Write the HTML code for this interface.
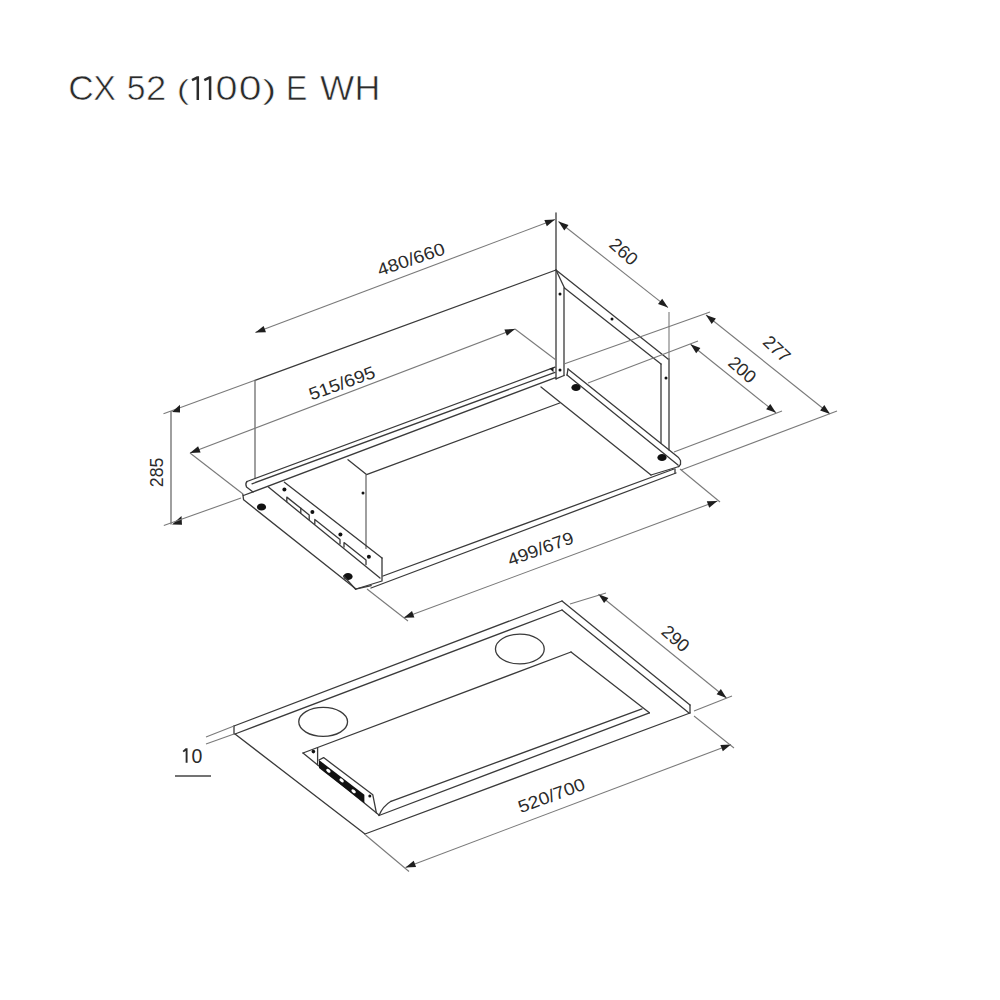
<!DOCTYPE html>
<html><head><meta charset="utf-8"><style>
html,body{margin:0;padding:0;background:#fff;}
body{width:1000px;height:1000px;overflow:hidden;position:relative;}
.title{position:absolute;left:70px;top:66px;font-family:"Liberation Sans",sans-serif;font-size:32px;color:#2b2b2b;white-space:nowrap;}
svg{position:absolute;left:0;top:0;}
.m{stroke:#3a3a3a;stroke-width:1.3;fill:none;stroke-linecap:round;stroke-linejoin:round;}
.g{stroke:#777;stroke-width:1.4;fill:none;}
.e{stroke:#7a7a7a;stroke-width:1.1;fill:none;}
.dl{stroke:#7a7a7a;stroke-width:1.1;fill:none;}
.ul{stroke:#444;stroke-width:1.3;}
.a{fill:#1e1e1e;}
.d{fill:#111;}
.k{fill:#111;}
.tt{font-family:"Liberation Sans",sans-serif;font-size:34.5px;fill:#2b2b2b;stroke:#fff;stroke-width:0.6px;}
.t{font-family:"Liberation Sans",sans-serif;fill:#2a2a2a;text-anchor:middle;}
</style></head><body>
<svg width="1000" height="1000" viewBox="0 0 1000 1000">
<line class="e" x1="163.5" y1="413.8" x2="255" y2="380.3"/>
<line class="m" x1="255" y1="380.3" x2="556" y2="270"/>
<line class="g" x1="255" y1="380" x2="255" y2="479"/>
<line class="m" x1="556" y1="213" x2="556" y2="379"/>
<line class="m" x1="564" y1="288" x2="564" y2="375.5"/>
<line class="m" x1="556" y1="378.8" x2="564" y2="375.5"/>
<line class="m" x1="568" y1="369" x2="567" y2="375"/>
<line class="m" x1="556" y1="270" x2="564.5" y2="288"/>
<line class="m" x1="556" y1="270" x2="668" y2="359"/>
<line class="m" x1="564.5" y1="288" x2="661" y2="364"/>
<line class="e" x1="669" y1="312" x2="669" y2="359"/>
<line class="m" x1="669" y1="359" x2="669" y2="450"/>
<line class="m" x1="661" y1="364" x2="661" y2="443"/>
<ellipse class="d" cx="560" cy="294" rx="1.5" ry="1.5" transform="rotate(0 560 294)"/>
<ellipse class="d" cx="612" cy="319" rx="1.5" ry="1.5" transform="rotate(0 612 319)"/>
<ellipse class="d" cx="560" cy="370" rx="1.5" ry="1.5" transform="rotate(0 560 370)"/>
<ellipse class="d" cx="666" cy="378" rx="1.5" ry="1.5" transform="rotate(0 666 378)"/>
<line class="m" x1="247" y1="481.5" x2="555" y2="367.2"/>
<line class="m" x1="252" y1="483.8" x2="555" y2="372.4"/>
<line class="m" x1="243.4" y1="495.5" x2="555.5" y2="377.6"/>
<polygon class="a" points="549.5,368.6 553.5,367.4 553.5,372.2"/>
<path class="m" d="M247,481.5 Q245,483.5 246.5,487 L253,492"/>
<line class="m" x1="348" y1="459.7" x2="366.5" y2="474.6"/>
<line class="m" x1="366.5" y1="474.6" x2="559.7" y2="403"/>
<line class="g" x1="366" y1="474.6" x2="366" y2="549"/>
<ellipse class="d" cx="363" cy="493" rx="1.5" ry="1.5" transform="rotate(0 363 493)"/>
<polyline class="m" points="568,369 678.5,457.5 680.5,460.5 680.5,464.5 678.5,466.5"/>
<line class="m" x1="567" y1="375" x2="678" y2="465"/>
<line class="m" x1="541" y1="387" x2="651" y2="475"/>
<line class="m" x1="651" y1="475" x2="679" y2="466.5"/>
<ellipse class="d" cx="576" cy="387.5" rx="4.6" ry="3.6" transform="rotate(0 576 387.5)"/>
<ellipse class="d" cx="662" cy="457.5" rx="4.6" ry="3.6" transform="rotate(0 662 457.5)"/>
<line class="m" x1="383" y1="576" x2="674" y2="469"/>
<line class="m" x1="371" y1="588" x2="676" y2="473"/>
<line class="m" x1="675" y1="469" x2="675" y2="473"/>
<polyline class="m" points="242.8,494.2 243.6,499.8 356,589 382,581 382,558"/>
<line class="m" x1="284.4" y1="482.2" x2="382" y2="558"/>
<line class="m" x1="268.4" y1="487" x2="380" y2="578"/>
<ellipse class="d" cx="261.5" cy="507" rx="4.6" ry="3.6" transform="rotate(0 261.5 507)"/>
<ellipse class="d" cx="348" cy="576.5" rx="4.6" ry="3.6" transform="rotate(0 348 576.5)"/>
<ellipse class="d" cx="284.4" cy="489.6" rx="2" ry="2" transform="rotate(0 284.4 489.6)"/>
<ellipse class="d" cx="312.4" cy="512" rx="2" ry="2" transform="rotate(0 312.4 512)"/>
<ellipse class="d" cx="340.4" cy="534.4" rx="2" ry="2" transform="rotate(0 340.4 534.4)"/>
<ellipse class="d" cx="368.9" cy="556.8" rx="2" ry="2" transform="rotate(0 368.9 556.8)"/>
<polyline class="m" points="286.8,501.62800000000004 286.8,497.12800000000004 309.2,514.936 309.2,519.436"/>
<polyline class="m" points="314.8,523.888 314.8,519.388 340,539.422 340,543.922"/>
<polyline class="m" points="344,547.102 344,542.602 366,560.092 366,564.592"/>
<line class="m" x1="300.8" y1="508.25800000000004" x2="300.8" y2="512.758"/>
<line class="m" x1="343.6" y1="576" x2="355.6" y2="589.2"/>
<line class="m" x1="355.6" y1="589.2" x2="371.2" y2="585.6"/>
<line class="dl" x1="255.4" y1="332.6" x2="555" y2="219.5"/>
<polygon class="a" points="255.4,332.6 263.6,325.9 266.0,332.2"/>
<polygon class="a" points="555.0,219.5 546.8,226.2 544.4,219.9"/>
<text class="t" x="413" y="265" font-size="17.5" textLength="70" lengthAdjust="spacingAndGlyphs" transform="rotate(-18.8 413 265)">480/660</text>
<line class="dl" x1="558.5" y1="221.5" x2="668" y2="307.6"/>
<polygon class="a" points="558.5,221.5 568.5,225.0 564.3,230.4"/>
<polygon class="a" points="668.0,307.6 658.0,304.1 662.2,298.7"/>
<text class="t" x="619.6" y="256.3" font-size="18" textLength="31" lengthAdjust="spacingAndGlyphs" transform="rotate(41 619.6 256.3)">260</text>
<line class="dl" x1="706" y1="315" x2="830" y2="414"/>
<polygon class="a" points="706.0,315.0 715.9,318.6 711.7,323.9"/>
<polygon class="a" points="830.0,414.0 820.1,410.4 824.3,405.1"/>
<line class="e" x1="564" y1="364" x2="710" y2="312"/>
<line class="e" x1="681" y1="470" x2="837" y2="411"/>
<text class="t" x="772.6" y="353.4" font-size="18" textLength="30" lengthAdjust="spacingAndGlyphs" transform="rotate(43 772.6 353.4)">277</text>
<line class="dl" x1="690.5" y1="344.3" x2="776" y2="412.8"/>
<polygon class="a" points="690.5,344.3 700.4,347.9 696.2,353.2"/>
<polygon class="a" points="776.0,412.8 766.1,409.2 770.3,403.9"/>
<line class="e" x1="588" y1="383" x2="698" y2="341"/>
<line class="e" x1="674" y1="452" x2="782" y2="411"/>
<text class="t" x="738.2" y="374.4" font-size="18" textLength="30" lengthAdjust="spacingAndGlyphs" transform="rotate(41 738.2 374.4)">200</text>
<line class="g" x1="171" y1="411" x2="171" y2="524.5"/>
<polygon class="a" points="172,412 180,404.8 180,412.6"/>
<polygon class="a" points="172,524.6 181.5,516 182,524.8"/>
<line class="e" x1="163.8" y1="525.6" x2="241" y2="498"/>
<text class="t" x="163.4" y="472.4" font-size="17.5" textLength="29.5" lengthAdjust="spacingAndGlyphs" transform="rotate(-90 163.4 472.4)">285</text>
<line class="dl" x1="190" y1="453" x2="515" y2="329"/>
<polygon class="a" points="190.0,453.0 198.1,446.3 200.6,452.6"/>
<polygon class="a" points="515.0,329.0 506.9,335.7 504.4,329.4"/>
<line class="e" x1="190" y1="453" x2="243" y2="494"/>
<line class="e" x1="515" y1="329" x2="556" y2="360"/>
<text class="t" x="344" y="388.8" font-size="17.5" textLength="69" lengthAdjust="spacingAndGlyphs" transform="rotate(-20 344 388.8)">515/695</text>
<line class="dl" x1="403.8" y1="617.8" x2="717.4" y2="501"/>
<polygon class="a" points="403.8,617.8 412.0,611.1 414.4,617.5"/>
<polygon class="a" points="717.4,501.0 709.2,507.7 706.8,501.3"/>
<line class="e" x1="367" y1="589" x2="408" y2="621"/>
<line class="e" x1="680" y1="469" x2="720" y2="502"/>
<text class="t" x="542.6" y="554.4" font-size="17.5" textLength="69" lengthAdjust="spacingAndGlyphs" transform="rotate(-20 542.6 554.4)">499/679</text>
<line class="m" x1="234" y1="726" x2="562" y2="601"/>
<line class="m" x1="235" y1="734" x2="562" y2="610"/>
<line class="m" x1="234" y1="726" x2="234" y2="734"/>
<line class="m" x1="562" y1="601" x2="690" y2="705"/>
<line class="m" x1="562" y1="610" x2="689" y2="713"/>
<line class="m" x1="690" y1="705" x2="690" y2="713"/>
<line class="m" x1="690" y1="713" x2="365" y2="834"/>
<line class="m" x1="235" y1="734" x2="365" y2="834"/>
<ellipse class="m" cx="323.15" cy="721.85" rx="24.4" ry="14.5"/>
<ellipse class="m" cx="519.85" cy="649" rx="24.4" ry="14.9"/>
<line class="m" x1="303" y1="753" x2="571" y2="652"/>
<line class="m" x1="571" y1="652" x2="649.4" y2="712.8"/>
<line class="m" x1="642" y1="708.8" x2="391" y2="801.3"/>
<path class="m" d="M391,801.3 Q383,806 379,815.5"/>
<line class="m" x1="649.4" y1="712.8" x2="379" y2="815.5"/>
<line class="m" x1="303" y1="753" x2="379" y2="815"/>
<line class="m" x1="317.6" y1="748" x2="317.6" y2="764.8"/>
<ellipse class="d" cx="313.4" cy="751.6" rx="1.8" ry="1.8" transform="rotate(0 313.4 751.6)"/>
<polygon class="k" points="319,760 364.4,794.8 364.4,803.2 319,768"/>
<ellipse cx="328.4" cy="770.8" rx="2.5" ry="1.5" fill="#fff" transform="rotate(37 328.4 770.8)"/>
<ellipse cx="341.6" cy="780.4" rx="2.5" ry="1.5" fill="#fff" transform="rotate(37 341.6 780.4)"/>
<ellipse cx="353.6" cy="791.2" rx="2.5" ry="1.5" fill="#fff" transform="rotate(37 353.6 791.2)"/>
<polyline class="m" points="319,760 323.6,757.6 372.8,794.8 376.4,812.8"/>
<ellipse class="d" cx="369.8" cy="796" rx="1.5" ry="1.5" transform="rotate(0 369.8 796)"/>
<line class="dl" x1="598.5" y1="594.2" x2="726.5" y2="698"/>
<polygon class="a" points="598.5,594.2 608.4,597.9 604.1,603.1"/>
<polygon class="a" points="726.5,698.0 716.6,694.3 720.9,689.1"/>
<line class="e" x1="570" y1="604" x2="606" y2="593"/>
<line class="e" x1="694" y1="711" x2="732" y2="696"/>
<text class="t" x="671.6" y="643.2" font-size="18" textLength="30" lengthAdjust="spacingAndGlyphs" transform="rotate(41 671.6 643.2)">290</text>
<line class="dl" x1="405.5" y1="867.5" x2="731" y2="744.5"/>
<polygon class="a" points="405.5,867.5 413.7,860.8 416.1,867.1"/>
<polygon class="a" points="731.0,744.5 722.8,751.2 720.4,744.9"/>
<line class="e" x1="365.5" y1="835" x2="409" y2="871.5"/>
<line class="e" x1="694" y1="716" x2="734" y2="748"/>
<text class="t" x="553.6" y="801.2" font-size="17.5" textLength="70" lengthAdjust="spacingAndGlyphs" transform="rotate(-20.3 553.6 801.2)">520/700</text>
<line class="e" x1="206" y1="737" x2="234" y2="726"/>
<line class="e" x1="206" y1="744" x2="234" y2="734"/>
<path d="M183.2,751.6 L186,749.2 L186.6,749.2 V762.7" stroke="#2a2a2a" stroke-width="1.9" fill="none"/>
<text class="t" x="197" y="762.7" font-size="19.5">0</text>
<line class="ul" x1="175" y1="776" x2="211" y2="776"/>
<text class="tt" transform="translate(68.15,100.0) scale(1.024,1)">C</text>
<text class="tt" transform="translate(93.31,100.0) scale(0.986,1)">X</text>
<text class="tt" transform="translate(126.75,100.0) scale(0.975,1)">5</text>
<text class="tt" transform="translate(146.09,100.0) scale(1.056,1)">2</text>
<text class="tt" transform="translate(176.72,98.6) scale(1.089,0.827)">(</text>
<path d="M192.0,80.2 L197.2,77.6 L197.8,77.6 V100" stroke="#2b2b2b" stroke-width="2.5" fill="none" stroke-linejoin="miter"/>
<path d="M204.3,80.2 L209.5,77.6 L210.1,77.6 V100" stroke="#2b2b2b" stroke-width="2.5" fill="none" stroke-linejoin="miter"/>
<text class="tt" transform="translate(215.45,100.0) scale(1.147,1)">0</text>
<text class="tt" transform="translate(238.81,100.0) scale(1.188,1)">0</text>
<text class="tt" transform="translate(262.17,98.6) scale(1.225,0.827)">)</text>
<text class="tt" transform="translate(286.02,100.0) scale(0.926,1)">E</text>
<text class="tt" transform="translate(320.00,100.0) scale(1.050,1)">W</text>
<text class="tt" transform="translate(354.49,100.0) scale(1.037,1)">H</text>
</svg>
</body></html>
